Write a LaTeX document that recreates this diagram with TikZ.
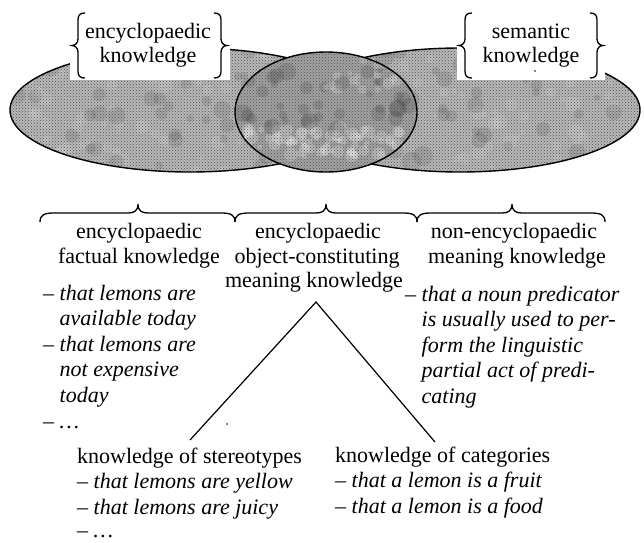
\documentclass[tikz,border=0pt]{standalone}
\usepackage{fontspec}
\setmainfont{Liberation Serif}
\usetikzlibrary{patterns}
\newcommand\mybrh[3]{% horizontal brace, tip up: left end, tip, right end
  \draw[brc] (#1,222) .. controls (#1,215) and ({#1+4},213) .. ({#1+14},213)
    -- ({#2-10},213) .. controls ({#2-4},213) and (#2,211) .. (#2,204)
    .. controls (#2,211) and ({#2+4},213) .. ({#2+10},213)
    -- ({#3-14},213) .. controls ({#3-4},213) and (#3,215) .. (#3,222);}
\newcommand\mybrv[2]{% vertical brace: tip x, direction (+1 for "{", -1 for "}")
  \draw[brc] ({#1+13*#2},13) .. controls ({#1+8*#2},13) and ({#1+6*#2},15) .. ({#1+6*#2},20)
    -- ({#1+6*#2},39) .. controls ({#1+6*#2},43) and ({#1+3*#2},45.5) .. (#1,45.5)
    .. controls ({#1+3*#2},45.5) and ({#1+6*#2},48) .. ({#1+6*#2},52)
    -- ({#1+6*#2},71) .. controls ({#1+6*#2},76) and ({#1+8*#2},78) .. ({#1+13*#2},78);}
\begin{document}
\begin{tikzpicture}[x=1pt,y=-1pt,
  lbl/.style={inner sep=0pt,anchor=base,font=\fontsize{22}{26}\selectfont},
  lblw/.style={lbl,anchor=base west},
  itw/.style={lblw,font=\fontsize{22}{26}\selectfont\itshape},
  outline/.style={line width=1.4pt},
  brc/.style={line width=1.3pt},
  dither/.style={pattern=crosshatch dots, pattern color=black!70},
]
\useasboundingbox (0,0) rectangle (644,542);
\fill[white] (0,0) rectangle (644,542);

% ---- the two knowledge ellipses
\fill[gray!55] (190,110) ellipse [x radius=180pt, y radius=62pt];
\fill[gray!55] (460,110) ellipse [x radius=180pt, y radius=62pt];
\begin{scope}
  \clip (190,110) ellipse [x radius=180pt, y radius=62pt]
        (460,110) ellipse [x radius=180pt, y radius=62pt];
  \pgfmathsetseed{11}
  \foreach \i in {1,...,140}{\fill[white,opacity=0.14] ({325+315*rand},{110+62*rand}) circle ({2pt+6pt*rnd});}
  \foreach \i in {1,...,100}{\fill[black,opacity=0.1] ({325+315*rand},{110+62*rand}) circle ({3pt+7pt*rnd});}
  \fill[dither] (0,40) rectangle (644,180);
\end{scope}
\draw[outline] (190,110) ellipse [x radius=180pt, y radius=62pt];
\draw[outline] (460,110) ellipse [x radius=180pt, y radius=62pt];

% ---- overlap circle
\fill[gray!72] (326,112) ellipse [x radius=91pt, y radius=60pt];
\begin{scope}
  \clip (326,112) ellipse [x radius=91pt, y radius=60pt];
  \pgfmathsetseed{5}
  \foreach \i in {1,...,80}{\fill[white,opacity=0.25] ({320+80*rand},{142+14*rand}) circle ({2pt+5pt*rnd});}
  \foreach \i in {1,...,20}{\fill[white,opacity=0.22] ({360+40*rand},{75+15*rand}) circle ({2pt+4pt*rnd});}
  \foreach \i in {1,...,40}{\fill[black,opacity=0.12] ({326+90*rand},{100+30*rand}) circle ({3pt+6pt*rnd});}
  \fill[dither] (230,50) rectangle (420,175);
\end{scope}
\draw[outline] (326,112) ellipse [x radius=91pt, y radius=60pt];

% ---- label boxes over the ellipses
\fill[white] (70,0) rectangle (230,80);
\fill[white] (457,0) rectangle (605,80);
\mybrv{72}{1}
\mybrv{227}{-1}
\mybrv{459}{1}
\mybrv{603}{-1}
\node[lbl] (ek1) at (148,38) {encyclopaedic};
\node[lbl] (ek2) at (148,62) {knowledge};
\node[lbl] (sk1) at (531,38) {semantic};
\node[lbl] (sk2) at (531,62) {knowledge};
\fill (535,71) circle (0.8pt);

% ---- three braces
\mybrh{40}{138}{235}
\mybrh{235}{326}{417}
\mybrh{417}{512}{605}

% ---- headers
\node[lbl] (h1a) at (139,238) {encyclopaedic};
\node[lbl] (h1b) at (139,263) {factual knowledge};
\node[lbl] (h2a) at (318,238) {encyclopaedic};
\node[lbl] (h2b) at (317,263) {object-constituting};
\node[lbl] (h2c) at (314,287) {meaning knowledge};
\node[lbl] (h3a) at (514,238) {non-encyclopaedic};
\node[lbl] (h3b) at (517,263) {meaning knowledge};

% ---- left list
\node[itw] (l1) at (43,300) {– that lemons are};
\node[itw] (l2) at (43,325.5) {\hphantom{– }available today};
\node[itw] (l3) at (43,351) {– that lemons are};
\node[itw] (l4) at (43,376.5) {\hphantom{– }not expensive};
\node[itw] (l5) at (43,402) {\hphantom{– }today};
\node[itw] (l6) at (43,428) {– \dots};

% ---- right list
\node[itw] (r1) at (405,301) {– that a noun predicator};
\node[itw] (r2) at (405,326.5) {\hphantom{– }is usually used to per-};
\node[itw] (r3) at (405,352) {\hphantom{– }form the linguistic};
\node[itw] (r4) at (405,377.5) {\hphantom{– }partial act of predi-};
\node[itw] (r5) at (405,403) {\hphantom{– }cating};

% ---- triangle
\coordinate (apex) at (316,302);
\coordinate (footL) at (190,440);
\coordinate (footR) at (435,442);
\draw[line width=1.2pt] (footL) -- (apex) -- (footR);
\fill (227,424) circle (0.8pt);

% ---- bottom blocks
\node[lblw] (b1) at (77,463) {knowledge of stereotypes};
\node[itw] (b2) at (77,488.5) {– that lemons are yellow};
\node[itw] (b3) at (77,514) {– that lemons are juicy};
\node[itw] (b4) at (77,537) {– \dots};
\node[lblw] (c1) at (335,462) {knowledge of categories};
\node[itw] (c2) at (335,487.5) {– that a lemon is a fruit};
\node[itw] (c3) at (335,513) {– that a lemon is a food};
\end{tikzpicture}
\end{document}
